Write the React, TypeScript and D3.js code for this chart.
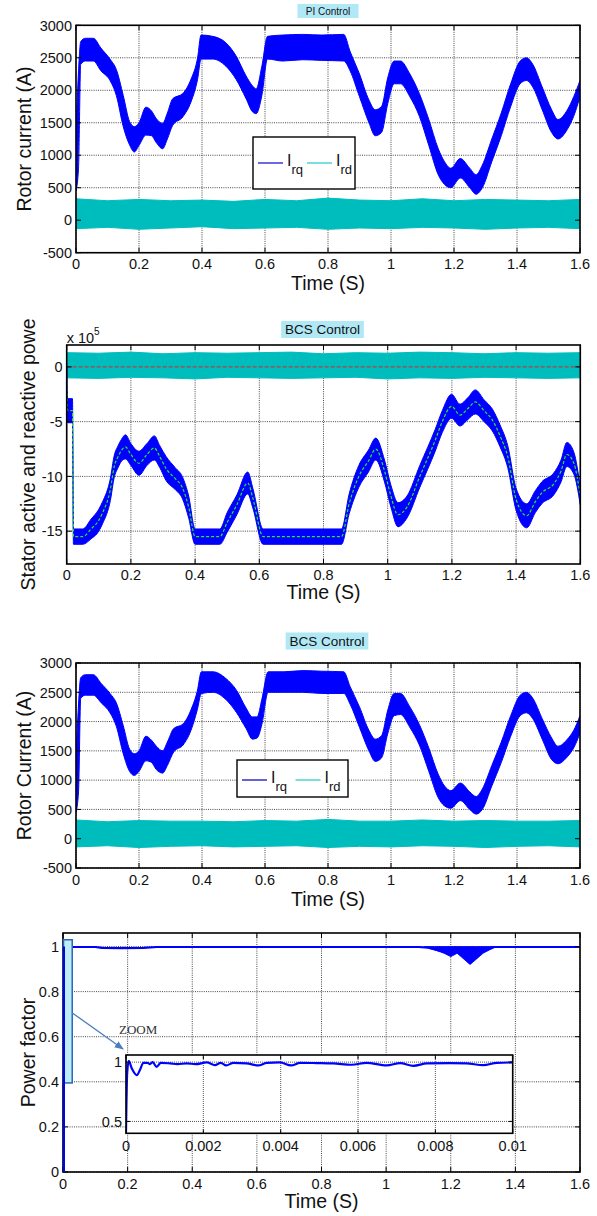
import React from "react";
import * as d3 from "d3";

const FONT = "'Liberation Sans', Arial, Helvetica, sans-serif";

// ---------- ticks / labels ----------
const timeTicks = [0, 0.2, 0.4, 0.6, 0.8, 1, 1.2, 1.4, 1.6];
const currentTicks = [-500, 0, 500, 1000, 1500, 2000, 2500, 3000];
const powerTicks = [-15, -10, -5, 0];
const pfTicks = [0, 0.2, 0.4, 0.6, 0.8, 1];
const insetTimeTicks = [0, 0.002, 0.004, 0.006, 0.008, 0.01];
const insetPfTicks = [0.5, 1];
const titles = ["PI Control", "BCS Control", "BCS Control"];
const legendNames = [
  { main: "I", sub: "rq" },
  { main: "I", sub: "rd" },
];

// ---------- Panel 1: PI control rotor current (envelopes of noisy bands) ----------
const irqPiTime = [0, 0.008, 0.015, 0.03, 0.055, 0.079, 0.108, 0.128, 0.15, 0.17, 0.185, 0.2, 0.222, 0.24, 0.254, 0.275, 0.29, 0.307, 0.339, 0.365, 0.386, 0.397, 0.434, 0.476, 0.508, 0.54, 0.56, 0.572, 0.59, 0.608, 0.656, 0.72, 0.78, 0.85, 0.87, 0.9, 0.93, 0.95, 0.97, 0.99, 1.01, 1.03, 1.06, 1.09, 1.12, 1.15, 1.17, 1.19, 1.22, 1.25, 1.27, 1.29, 1.32, 1.35, 1.38, 1.41, 1.43, 1.45, 1.48, 1.51, 1.53, 1.56, 1.58, 1.6];
const irqPiLow = [450, 800, 2400, 2450, 2450, 2300, 2150, 1920, 1440, 1160, 1050, 1150, 1310, 1300, 1200, 1100, 1250, 1460, 1590, 1820, 2170, 2480, 2480, 2370, 2170, 1870, 1670, 1640, 1920, 2480, 2450, 2470, 2460, 2450, 2300, 1900, 1500, 1300, 1350, 1800, 2100, 2100, 1900, 1600, 1150, 700, 550, 500, 650, 500, 400, 500, 900, 1300, 1750, 2100, 2150, 2050, 1700, 1350, 1250, 1400, 1600, 1900];
const irqPiHigh = [1300, 2300, 2750, 2800, 2800, 2650, 2480, 2320, 1920, 1520, 1440, 1500, 1740, 1680, 1570, 1490, 1650, 1870, 1950, 2170, 2500, 2850, 2830, 2730, 2530, 2220, 2070, 2020, 2370, 2830, 2850, 2860, 2850, 2860, 2600, 2250, 1850, 1700, 1750, 2200, 2450, 2450, 2250, 1950, 1550, 1100, 900, 800, 950, 800, 700, 850, 1250, 1650, 2100, 2450, 2500, 2400, 2050, 1700, 1550, 1700, 1900, 2150];
const irdPiTime = [0, 0.1, 0.2, 0.3, 0.4, 0.5, 0.6, 0.7, 0.8, 0.9, 1.0, 1.1, 1.2, 1.3, 1.4, 1.5, 1.6];
const irdPiLow = [-130, -110, -140, -120, -100, -130, -120, -110, -140, -120, -130, -110, -120, -140, -120, -110, -130];
const irdPiHigh = [330, 300, 320, 300, 310, 290, 320, 300, 340, 310, 300, 330, 300, 320, 310, 300, 320];

// ---------- Panel 2: BCS stator active / reactive power (x 1e5) ----------
const pTime = [0, 0.003, 0.018, 0.021, 0.05, 0.076, 0.1, 0.112, 0.136, 0.148, 0.16, 0.171, 0.183, 0.2, 0.225, 0.25, 0.273, 0.29, 0.31, 0.338, 0.36, 0.38, 0.4, 0.477, 0.5, 0.53, 0.564, 0.58, 0.612, 0.856, 0.88, 0.91, 0.94, 0.963, 0.99, 1.01, 1.032, 1.06, 1.1, 1.148, 1.17, 1.199, 1.225, 1.25, 1.273, 1.3, 1.326, 1.35, 1.374, 1.4, 1.433, 1.46, 1.48, 1.517, 1.54, 1.558, 1.58, 1.6];
const pCenter = [-1.5, -4, -4, -15.5, -15.5, -14.8, -14, -13.3, -11.2, -9.1, -8.2, -7.6, -7.3, -8.0, -8.8, -8.0, -7.4, -8.2, -9.3, -10.2, -11.0, -12.8, -15.5, -15.5, -14.2, -12.6, -10.6, -12.0, -15.5, -15.5, -12.5, -10.0, -8.6, -7.5, -9.5, -11.8, -13.5, -12.8, -10.0, -6.7, -5.0, -3.6, -4.4, -3.8, -3.2, -4.0, -4.85, -6.3, -8.2, -12.1, -13.6, -12.3, -11.5, -10.7, -9.5, -8.0, -8.8, -11.8];
const pHalf = [1.5, 1.1, 1.1, 0.7, 0.7, 0.9, 1.0, 1.0, 1.0, 1.0, 1.0, 1.0, 1.1, 1.0, 1.1, 1.0, 1.1, 1.0, 1.1, 1.0, 1.0, 1.0, 0.7, 0.7, 0.9, 0.9, 1.0, 0.9, 0.7, 0.7, 0.9, 1.0, 1.0, 1.0, 1.0, 1.0, 1.1, 1.0, 1.0, 1.0, 1.0, 1.1, 1.0, 1.0, 1.1, 1.0, 1.0, 1.0, 1.0, 1.0, 1.1, 1.0, 1.0, 1.0, 1.0, 1.1, 1.0, 0.8];
const qTime = [0, 0.1, 0.2, 0.3, 0.4, 0.5, 0.6, 0.7, 0.8, 0.9, 1.0, 1.1, 1.2, 1.3, 1.4, 1.5, 1.6];
const qLow = [-1.0, -1.05, -0.95, -1.0, -1.1, -0.95, -1.0, -1.05, -1.0, -0.95, -1.1, -1.0, -1.05, -0.95, -1.0, -1.05, -1.0];
const qHigh = [1.3, 1.25, 1.35, 1.2, 1.3, 1.25, 1.3, 1.35, 1.2, 1.3, 1.25, 1.35, 1.3, 1.2, 1.3, 1.25, 1.3];
const qRef = [0, 0];
const qRefTime = [0, 1.6];

// ---------- Panel 3: BCS rotor current ----------
const irqBcsTime = [0, 0.008, 0.015, 0.03, 0.055, 0.08, 0.108, 0.128, 0.15, 0.17, 0.185, 0.2, 0.222, 0.24, 0.255, 0.275, 0.29, 0.31, 0.34, 0.365, 0.385, 0.398, 0.435, 0.475, 0.51, 0.54, 0.56, 0.575, 0.59, 0.61, 0.66, 0.72, 0.78, 0.85, 0.87, 0.9, 0.93, 0.95, 0.97, 0.99, 1.01, 1.03, 1.06, 1.09, 1.12, 1.15, 1.17, 1.19, 1.22, 1.25, 1.27, 1.29, 1.32, 1.35, 1.38, 1.41, 1.43, 1.45, 1.48, 1.51, 1.53, 1.56, 1.58, 1.6];
const irqBcsLow = [450, 800, 2400, 2450, 2450, 2320, 2150, 1920, 1450, 1150, 1080, 1150, 1330, 1300, 1180, 1120, 1250, 1480, 1600, 1850, 2200, 2480, 2500, 2380, 2150, 1880, 1700, 1720, 1950, 2500, 2500, 2500, 2480, 2480, 2300, 1900, 1500, 1320, 1380, 1800, 2100, 2120, 1900, 1600, 1150, 700, 560, 520, 650, 500, 420, 500, 900, 1300, 1750, 2100, 2150, 2050, 1700, 1350, 1280, 1400, 1550, 1800];
const irqBcsHigh = [1300, 2300, 2750, 2800, 2800, 2650, 2480, 2320, 1930, 1530, 1450, 1500, 1750, 1680, 1580, 1500, 1650, 1880, 1960, 2200, 2520, 2850, 2850, 2740, 2530, 2230, 2080, 2080, 2380, 2850, 2850, 2870, 2860, 2850, 2600, 2250, 1850, 1700, 1760, 2200, 2480, 2480, 2250, 1950, 1550, 1100, 900, 820, 950, 800, 720, 850, 1250, 1650, 2100, 2450, 2500, 2400, 2050, 1720, 1580, 1700, 1850, 2100];
const irdBcsTime = [0, 0.1, 0.2, 0.3, 0.4, 0.5, 0.6, 0.7, 0.8, 0.9, 1.0, 1.1, 1.2, 1.3, 1.4, 1.5, 1.6];
const irdBcsLow = [-140, -120, -150, -130, -120, -140, -130, -120, -150, -130, -140, -120, -130, -150, -130, -120, -140];
const irdBcsHigh = [320, 290, 310, 300, 300, 290, 310, 300, 330, 300, 300, 320, 300, 310, 300, 300, 310];

// ---------- Panel 4: power factor ----------
const pfTime = [0, 0.0008, 0.008, 0.016, 0.1, 0.12, 0.18, 0.25, 0.29, 0.5, 0.7, 1.1, 1.13, 1.17, 1.195, 1.215, 1.24, 1.257, 1.275, 1.3, 1.33, 1.6];
const pfValue = [0, 1.0, 0.955, 0.998, 0.998, 0.994, 0.993, 0.994, 0.998, 0.998, 0.998, 0.998, 0.995, 0.98, 0.965, 0.98, 0.955, 0.93, 0.955, 0.985, 0.998, 0.998];
const pfBandTime = [1.12, 1.15, 1.18, 1.2, 1.22, 1.24, 1.26, 1.28, 1.3, 1.32, 1.34];
const pfBandLow = [0.998, 0.985, 0.97, 0.955, 0.97, 0.945, 0.92, 0.945, 0.97, 0.985, 0.998];
const pfBandHigh = [1.0, 1.0, 1.0, 1.0, 1.0, 1.0, 1.0, 1.0, 1.0, 1.0, 1.0];
const insetTime = [0, 0.00003, 0.00007, 0.00015, 0.00028, 0.00036, 0.00045, 0.00055, 0.00062, 0.00069, 0.00079, 0.0009, 0.00114, 0.00133, 0.00157, 0.0018, 0.00209, 0.0023, 0.00245, 0.00259, 0.00278, 0.00312, 0.00342, 0.00364, 0.00398, 0.00427, 0.0045, 0.00493, 0.00536, 0.00584, 0.00622, 0.00674, 0.00709, 0.00743, 0.00778, 0.00838, 0.00881, 0.00924, 0.00959, 0.01];
const insetPf = [0.4, 0.905, 1.01, 0.947, 0.89, 0.933, 0.994, 0.994, 0.983, 1.0, 0.96, 0.994, 0.989, 0.983, 0.989, 0.983, 0.997, 0.975, 0.994, 0.972, 0.994, 0.989, 0.972, 0.994, 0.997, 0.972, 0.994, 0.992, 0.989, 0.978, 0.994, 0.972, 0.992, 0.969, 0.989, 0.992, 0.989, 0.975, 0.994, 0.997];

// ---------- layout ----------
const P1 = { l: 76, r: 580, t: 25.3, b: 252.7 };
const P2 = { l: 66.7, r: 580.3, t: 345, b: 564 };
const P3 = { l: 76, r: 580, t: 663, b: 868 };
const P4 = { l: 63, r: 580, t: 933, b: 1172 };
const IN = { l: 126, r: 512.7, t: 1055, b: 1133.3 };

const BLUE = "#0000ff";
const CYAN = "#00bdbd";
const TICK_FS = 14.5;

function fmt(v: number) {
  return String(+v.toFixed(4));
}

function bandPath(x: any, y: any, t: number[], lo: number[], hi: number[], curve = d3.curveLinear) {
  return d3
    .area<number>()
    .x((_, i) => x(t[i]))
    .y0((_, i) => y(lo[i]))
    .y1((_, i) => y(hi[i]))
    .curve(curve)(t) as string;
}

function linePath(x: any, y: any, t: number[], v: number[], curve = d3.curveLinear) {
  return d3
    .line<number>()
    .x((_, i) => x(t[i]))
    .y((_, i) => y(v[i]))
    .curve(curve)(t) as string;
}

function Grid({ x, y, xt, yt, box, color = "#333", dash = "1,1.2" }: any) {
  return (
    <g stroke={color} strokeWidth={0.9} strokeDasharray={dash}>
      {xt.map((v: number, i: number) => (
        <line key={"gx" + i} x1={x(v)} x2={x(v)} y1={box.t} y2={box.b} />
      ))}
      {yt.map((v: number, i: number) => (
        <line key={"gy" + i} x1={box.l} x2={box.r} y1={y(v)} y2={y(v)} />
      ))}
    </g>
  );
}

function Frame({ x, y, xt, yt, box, xLabelDy = 16, yFmt = fmt, fs = TICK_FS, tickLen = 5 }: any) {
  return (
    <g>
      <g stroke="#000" strokeWidth={1}>
        {xt.map((v: number, i: number) => (
          <g key={"tx" + i}>
            <line x1={x(v)} x2={x(v)} y1={box.b} y2={box.b - tickLen} />
            <line x1={x(v)} x2={x(v)} y1={box.t} y2={box.t + tickLen} />
          </g>
        ))}
        {yt.map((v: number, i: number) => (
          <g key={"ty" + i}>
            <line x1={box.l} x2={box.l + tickLen} y1={y(v)} y2={y(v)} />
            <line x1={box.r} x2={box.r - tickLen} y1={y(v)} y2={y(v)} />
          </g>
        ))}
      </g>
      <rect x={box.l} y={box.t} width={box.r - box.l} height={box.b - box.t} fill="none" stroke="#000" strokeWidth={1.6} />
      <g fontFamily={FONT} fontSize={fs} fill="#111">
        {xt.map((v: number, i: number) => (
          <text key={"lx" + i} x={x(v)} y={box.b + xLabelDy} textAnchor="middle">
            {fmt(v)}
          </text>
        ))}
        {yt.map((v: number, i: number) => (
          <text key={"ly" + i} x={box.l - 4} y={y(v)} dy="0.36em" textAnchor="end">
            {yFmt(v)}
          </text>
        ))}
      </g>
    </g>
  );
}

function Title({ cx, cy, text, fs, padX, h }: any) {
  const w = text.length * fs * 0.53 + padX * 2;
  return (
    <g>
      <rect x={cx - w / 2} y={cy - h / 2} width={w} height={h} fill="#b0e8f6" />
      <text x={cx} y={cy} dy="0.36em" textAnchor="middle" fontFamily={FONT} fontSize={fs} fill="#111">
        {text}
      </text>
    </g>
  );
}

function Legend({ x, y, w, h, lineY, colors, items }: any) {
  return (
    <g>
      <rect x={x} y={y} width={w} height={h} fill="#fff" stroke="#000" strokeWidth={1.4} />
      {items.map((it: any, i: number) => {
        const x0 = x + 5 + i * (w / 2 - 2);
        return (
          <g key={i}>
            <line x1={x0} x2={x0 + 25} y1={lineY} y2={lineY} stroke={colors[i]} strokeWidth={1.4} />
            <text x={x0 + 29} y={lineY + 3} fontFamily={FONT} fontSize={16} fill="#111">
              {it.main}
              <tspan fontSize={13} dy={8}>
                {it.sub}
              </tspan>
            </text>
          </g>
        );
      })}
    </g>
  );
}

function YLabel({ x, cy, text, fs = 19.5 }: any) {
  return (
    <text transform={`translate(${x},${cy}) rotate(-90)`} textAnchor="middle" fontFamily={FONT} fontSize={fs} fill="#111">
      {text}
    </text>
  );
}

function XLabel({ box, y, fs = 19.5 }: any) {
  return (
    <text x={(box.l + box.r) / 2} y={y} textAnchor="middle" fontFamily={FONT} fontSize={fs} fill="#111">
      Time (S)
    </text>
  );
}

export default function App() {
  // panel 1
  const x1 = d3.scaleLinear().domain([0, 1.6]).range([P1.l, P1.r]);
  const y1 = d3.scaleLinear().domain([-500, 3000]).range([P1.b, P1.t]);
  // panel 2
  const x2 = d3.scaleLinear().domain([0, 1.6]).range([P2.l, P2.r]);
  const y2 = d3.scaleLinear().domain([-18, 2]).range([P2.b, P2.t]);
  // panel 3
  const x3 = d3.scaleLinear().domain([0, 1.6]).range([P3.l, P3.r]);
  const y3 = d3.scaleLinear().domain([-500, 3000]).range([P3.b, P3.t]);
  // panel 4
  const x4 = d3.scaleLinear().domain([0, 1.6]).range([P4.l, P4.r]);
  const y4 = d3.scaleLinear().domain([0, 1.06]).range([P4.b, P4.t]);
  const xi = d3.scaleLinear().domain([0, 0.01]).range([IN.l, IN.r]);
  const yi = d3.scaleLinear().domain([0.4, 1.06]).range([IN.b, IN.t]);

  const pLow = pCenter.map((c, i) => c - pHalf[i]);
  const pHigh = pCenter.map((c, i) => c + pHalf[i]);

  const clip = (id: string, b: any) => (
    <clipPath id={id}>
      <rect x={b.l} y={b.t} width={b.r - b.l} height={b.b - b.t} />
    </clipPath>
  );

  return (
    <svg width={597} height={1216} style={{ position: "absolute", left: 0, top: 0, background: "#fff" }}>
      <defs>
        {clip("c1", P1)}
        {clip("c2", P2)}
        {clip("c3", P3)}
        {clip("c4", P4)}
        {clip("ci", IN)}
        <marker id="arr" viewBox="0 0 10 10" refX="9" refY="5" markerWidth="7" markerHeight="7" orient="auto">
          <path d="M0,1 L10,5 L0,9 z" fill="#4a7ebb" />
        </marker>
      </defs>
      <rect x={0} y={0} width={597} height={1216} fill="#fff" />

      {/* ---------- Panel 1 ---------- */}
      <Grid x={x1} y={y1} xt={timeTicks} yt={currentTicks} box={P1} />
      <g clipPath="url(#c1)">
        <path d={bandPath(x1, y1, irdPiTime, irdPiLow, irdPiHigh)} fill={CYAN} stroke={CYAN} strokeWidth={1} />
        <path d={bandPath(x1, y1, irqPiTime, irqPiLow, irqPiHigh, d3.curveMonotoneX)} fill={BLUE} stroke={BLUE} strokeWidth={1} />
      </g>
      <Frame x={x1} y={y1} xt={timeTicks} yt={currentTicks} box={P1} />
      <Legend x={253} y={137} w={102} h={52} lineY={163} colors={["#2a2ad8", "#40d0d0"]} items={legendNames} />
      <Title cx={328} cy={11} text={titles[0]} fs={10} padX={4} h={14} />
      <YLabel x={31} cy={(P1.t + P1.b) / 2} text="Rotor current (A)" />
      <XLabel box={P1} y={290} />

      {/* ---------- Panel 2 ---------- */}
      <Grid x={x2} y={y2} xt={timeTicks} yt={powerTicks} box={P2} />
      <g clipPath="url(#c2)">
        <path d={bandPath(x2, y2, qTime, qLow, qHigh)} fill={CYAN} stroke={CYAN} strokeWidth={1} />
        <path d={linePath(x2, y2, qRefTime, qRef)} fill="none" stroke="#b04040" strokeWidth={1.2} strokeDasharray="4,2" />
        <path d={bandPath(x2, y2, pTime, pLow, pHigh, d3.curveMonotoneX)} fill={BLUE} stroke={BLUE} strokeWidth={1} />
        <path d={linePath(x2, y2, pTime, pCenter, d3.curveMonotoneX)} fill="none" stroke="#22ee22" strokeWidth={1.2} strokeDasharray="3,2" />
      </g>
      <Frame x={x2} y={y2} xt={timeTicks} yt={powerTicks} box={P2} />
      <text x={P2.l} y={343} fontFamily={FONT} fontSize={14.5} fill="#111">
        x 10
        <tspan fontSize={10} dy={-8}>
          5
        </tspan>
      </text>
      <Title cx={322.5} cy={329.5} text={titles[1]} fs={13.5} padX={2} h={17} />
      <YLabel x={35} cy={(P2.t + P2.b) / 2} text="Stator active and reactive powe" />
      <XLabel box={P2} y={599} />

      {/* ---------- Panel 3 ---------- */}
      <Grid x={x3} y={y3} xt={timeTicks} yt={currentTicks} box={P3} />
      <g clipPath="url(#c3)">
        <path d={bandPath(x3, y3, irdBcsTime, irdBcsLow, irdBcsHigh)} fill={CYAN} stroke={CYAN} strokeWidth={1} />
        <path d={bandPath(x3, y3, irqBcsTime, irqBcsLow, irqBcsHigh, d3.curveMonotoneX)} fill={BLUE} stroke={BLUE} strokeWidth={1} />
      </g>
      <Frame x={x3} y={y3} xt={timeTicks} yt={currentTicks} box={P3} xLabelDy={17} />
      <Legend x={237} y={760} w={111} h={37} lineY={780} colors={["#2020c0", "#40d0d0"]} items={legendNames} />
      <Title cx={327} cy={641} text={titles[2]} fs={13.5} padX={2} h={17} />
      <YLabel x={31} cy={(P3.t + P3.b) / 2} text="Rotor Current (A)" />
      <XLabel box={P3} y={906} />

      {/* ---------- Panel 4 ---------- */}
      <Grid x={x4} y={y4} xt={timeTicks} yt={pfTicks} box={P4} />
      <g clipPath="url(#c4)">
        <path d={bandPath(x4, y4, pfBandTime, pfBandLow, pfBandHigh)} fill={BLUE} stroke={BLUE} strokeWidth={0.8} />
        <path d={linePath(x4, y4, pfTime, pfValue)} fill="none" stroke={BLUE} strokeWidth={2.2} />
      </g>
      <Frame x={x4} y={y4} xt={timeTicks} yt={pfTicks} box={P4} xLabelDy={17} />
      <rect x={x4(0) + 0.5} y={y4(1.03)} width={x4(0.027) - x4(0)} height={y4(0.395) - y4(1.03)} fill="#bdeef5" stroke="#2a66b8" strokeWidth={1.5} />
      <line x1={x4(0) + 1} x2={x4(0) + 1} y1={y4(0)} y2={y4(1)} stroke={BLUE} strokeWidth={2} />
      <line x1={72} y1={1012.7} x2={123} y2={1049} stroke="#4a7ebb" strokeWidth={1.3} markerEnd="url(#arr)" />
      <text x={119} y={1034} fontFamily="'Liberation Serif', 'Times New Roman', serif" fontSize={13} fill="#333">
        ZOOM
      </text>

      {/* inset */}
      <rect x={IN.l} y={IN.t} width={IN.r - IN.l} height={IN.b - IN.t} fill="#fff" />
      <Grid x={xi} y={yi} xt={insetTimeTicks} yt={insetPfTicks} box={IN} color="#444" dash="1,1" />
      <g clipPath="url(#ci)">
        <path d={linePath(xi, yi, insetTime, insetPf, d3.curveMonotoneX)} fill="none" stroke={BLUE} strokeWidth={2.2} />
      </g>
      <Frame x={xi} y={yi} xt={insetTimeTicks} yt={insetPfTicks} box={IN} xLabelDy={18} tickLen={4} />

      <YLabel x={35} cy={(P4.t + P4.b) / 2} text="Power factor" />
      <XLabel box={P4} y={1208} />
    </svg>
  );
}
